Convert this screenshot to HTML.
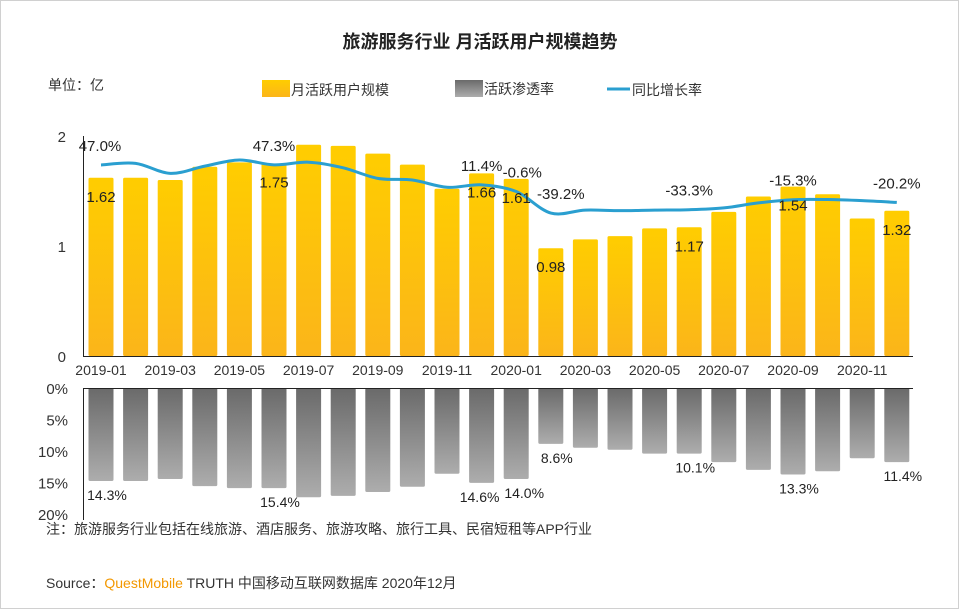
<!DOCTYPE html>
<html><head><meta charset="utf-8">
<style>
html,body{margin:0;padding:0;background:#fff;}
body{width:960px;height:610px;overflow:hidden;font-family:"Liberation Sans","Noto Sans CJK SC",sans-serif;}
svg text{font-family:"Liberation Sans","Noto Sans CJK SC",sans-serif;}
</style></head>
<body>
<svg id="c" width="960" height="610" viewBox="0 0 960 610" xmlns="http://www.w3.org/2000/svg">
<defs>
<linearGradient id="gy" x1="0" y1="0" x2="0" y2="1"><stop offset="0" stop-color="#ffcd00"/><stop offset="1" stop-color="#fbb51a"/></linearGradient>
<linearGradient id="gg" x1="0" y1="0" x2="0" y2="1"><stop offset="0" stop-color="#6a6a6a"/><stop offset="1" stop-color="#adadad"/></linearGradient>
</defs>
<rect x="0.5" y="0.5" width="958" height="608" fill="#fff" stroke="#d0d0d0"/>
<text x="480" y="48" text-anchor="middle" font-size="18" font-weight="bold" fill="#222">旅游服务行业 月活跃用户规模趋势</text>
<text x="48" y="90" font-size="14" fill="#333">单位：亿</text>
<g>
<rect x="262" y="80" width="28" height="17" fill="url(#gy)"/>
<text x="291" y="95" font-size="14" fill="#333">月活跃用户规模</text>
<rect x="455" y="80" width="28" height="17" fill="url(#gg)"/>
<text x="484" y="94" font-size="14" fill="#333">活跃渗透率</text>
<line x1="607" y1="89" x2="630" y2="89" stroke="#2a9fd0" stroke-width="3"/>
<text x="632" y="95" font-size="14" fill="#333">同比增长率</text>
</g>
<g id="topc"></g>
<g id="botc"></g>
<text x="46" y="534" font-size="14" fill="#333">注：旅游服务行业包括在线旅游、酒店服务、旅游攻略、旅行工具、民宿短租等APP行业</text>
<text x="46" y="588" font-size="14" fill="#333">Source：<tspan fill="#f39800">QuestMobile</tspan> TRUTH 中国移动互联网数据库 2020年12月</text>
</svg>
<script>
const months = ["2019-01","2019-02","2019-03","2019-04","2019-05","2019-06","2019-07","2019-08","2019-09","2019-10","2019-11","2019-12","2020-01","2020-02","2020-03","2020-04","2020-05","2020-06","2020-07","2020-08","2020-09","2020-10","2020-11","2020-12"];
const mau = [1.62,1.62,1.60,1.72,1.76,1.75,1.92,1.91,1.84,1.74,1.52,1.66,1.61,0.98,1.06,1.09,1.16,1.17,1.31,1.45,1.54,1.47,1.25,1.32];
const mauLabels = ["1.62","","","","","1.75","","","","","","1.66","1.61","0.98","","","","1.17","","","1.54","","","1.32"];
const growth = [47.0,50,32,45,56,47.3,52,42,23,20,7,11.4,-0.6,-39.2,-34,-35,-34,-33.3,-30,-21,-15.3,-15,-17,-20.2];
const growthLabels = ["47.0%","","","","","47.3%","","","","","","11.4%","-0.6%","-39.2%","","","","-33.3%","","","-15.3%","","","-20.2%"];
const pen = [14.3,14.3,14.0,15.1,15.4,15.4,16.8,16.6,16.0,15.2,13.2,14.6,14.0,8.6,9.2,9.5,10.1,10.1,11.4,12.6,13.3,12.8,10.8,11.4];
const penLabels = ["14.3%","","","","","15.4%","","","","","","14.6%","14.0%","8.6%","","","","10.1%","","","13.3%","","","11.4%"];
const yTicks = [0,1,2];
const pTicks = [0,5,10,15,20];
const xTickIdx = [0,2,4,6,8,10,12,14,16,18,20,22];

const NS="http://www.w3.org/2000/svg";
function mk(tag,attrs,parent,txt){const e=document.createElementNS(NS,tag);for(const k in attrs)e.setAttribute(k,attrs[k]);if(txt!==undefined)e.textContent=txt;parent.appendChild(e);return e;}
const xC = i => 101 + i*34.6;
const yTop = v => 356 - v*110;
const yG = v => 165 - (v-47)*0.557;
const yP = v => 388 + v*6.5;
const BW=25;
const gTop=document.getElementById('topc'), gBot=document.getElementById('botc');

yTicks.forEach(t=>{
  const e=mk('text',{x:66,y:yTop(t)+6,'font-size':15,fill:'#333','text-anchor':'end'},gTop,String(t));
  
  
});
mau.forEach((v,i)=>{
  const r=mk('rect',{x:xC(i)-BW/2,y:yTop(v),width:BW,height:yTop(0)-yTop(v),fill:'url(#gy)',rx:1.5},gTop);
  
  
});
let ax=mk('line',{x1:83,y1:356.5,x2:913,y2:356.5,stroke:'#222','stroke-width':1},gTop);


let ay=mk('line',{x1:83.5,y1:136,x2:83.5,y2:357,stroke:'#222','stroke-width':1},gTop);


xTickIdx.forEach(i=>{
  const e=mk('text',{x:xC(i),y:375,'font-size':14,fill:'#333','text-anchor':'middle'},gTop,months[i]);
  
  
});
const pts=growth.map((v,i)=>[xC(i),yG(v)]);
let d='M'+pts[0][0]+','+pts[0][1];
for(let i=0;i<pts.length-1;i++){
  const p0=pts[Math.max(0,i-1)],p1=pts[i],p2=pts[i+1],p3=pts[Math.min(pts.length-1,i+2)];
  const c1=[p1[0]+(p2[0]-p0[0])/6,p1[1]+(p2[1]-p0[1])/6];
  const c2=[p2[0]-(p3[0]-p1[0])/6,p2[1]-(p3[1]-p1[1])/6];
  d+=' C'+c1[0]+','+c1[1]+' '+c2[0]+','+c2[1]+' '+p2[0]+','+p2[1];
}
const ln=mk('path',{d:d,fill:'none',stroke:'#2a9fd0','stroke-width':3},gTop);


mauLabels.forEach((t,i)=>{
  if(!t)return;
  const e=mk('text',{x:xC(i),y:yTop(mau[i])+24,'font-size':15,fill:'#222','text-anchor':'middle'},gTop,t);
  
  
});
growthLabels.forEach((t,i)=>{
  if(!t)return;
  let dx=0; if(i===0)dx=-1; if(i===12)dx=6; if(i===13)dx=10;
  const e=mk('text',{x:xC(i)+dx,y:yG(growth[i])-14,'font-size':15,fill:'#222','text-anchor':'middle'},gTop,t);
  
  
});
pTicks.forEach(t=>{
  const e=mk('text',{x:68,y:388+t*6.3+6,'font-size':15,fill:'#333','text-anchor':'end'},gBot,t+'%');
  
  
});
pen.forEach((v,i)=>{
  const r=mk('rect',{x:xC(i)-BW/2,y:yP(0),width:BW,height:yP(v)-yP(0),fill:'url(#gg)',rx:1.5},gBot);
  
  
});
let bx=mk('line',{x1:83,y1:388.5,x2:913,y2:388.5,stroke:'#222','stroke-width':1},gBot);


let by=mk('line',{x1:83.5,y1:388,x2:83.5,y2:520,stroke:'#222','stroke-width':1},gBot);


penLabels.forEach((t,i)=>{
  if(!t)return;
  let dx=6; if(i===11)dx=-2; if(i===12)dx=8;
  const e=mk('text',{x:xC(i)+dx,y:yP(pen[i])+19,'font-size':14,fill:'#222','text-anchor':'middle'},gBot,t);
  
  
});
</script>
</body></html>
